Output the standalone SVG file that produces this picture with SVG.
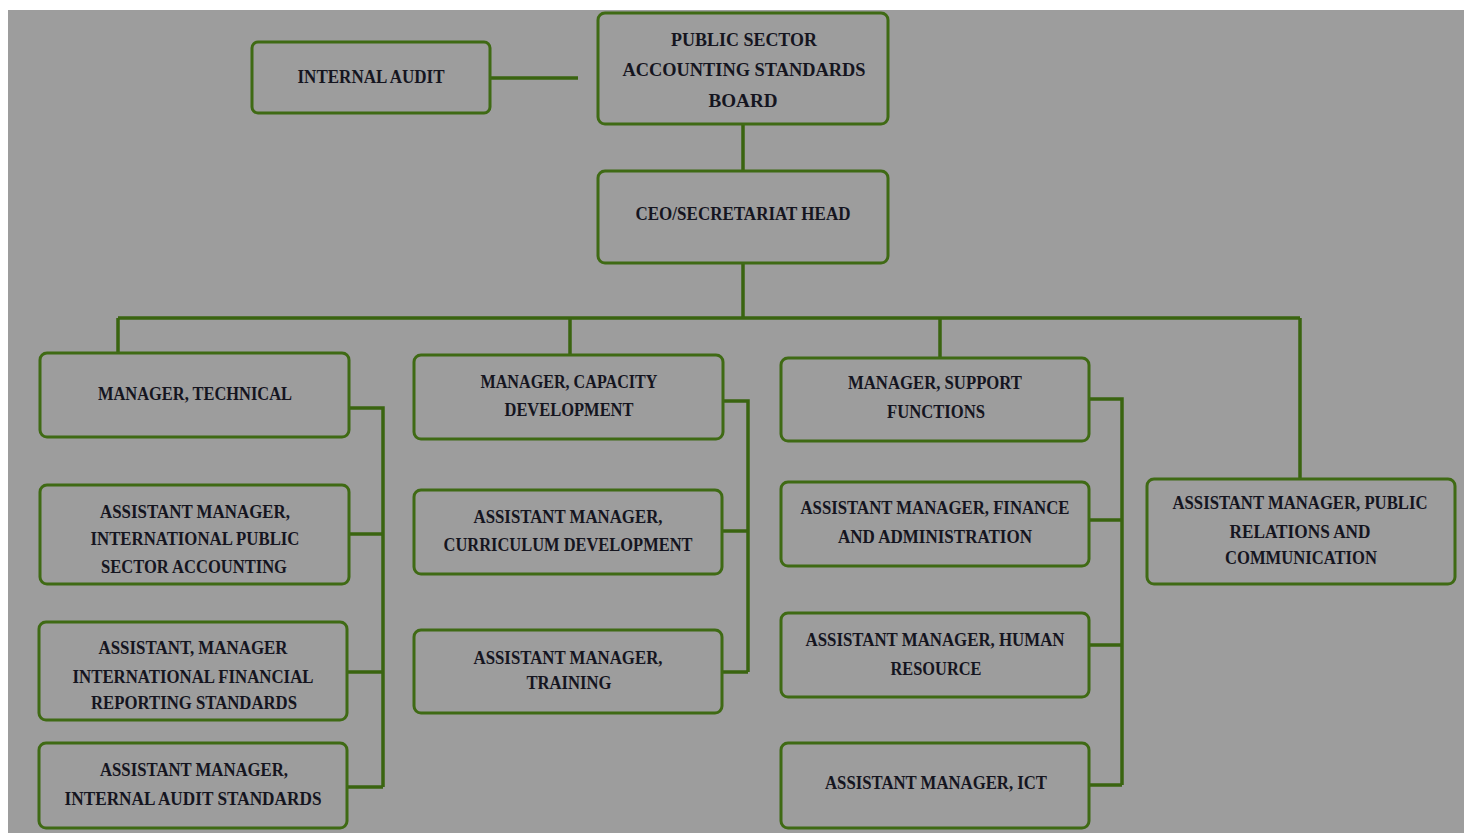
<svg xmlns="http://www.w3.org/2000/svg" width="1464" height="833" viewBox="0 0 1464 833">
<style>
.bg{fill:#9d9d9d}
.box{fill:#9d9d9d;stroke:#3f6a14;stroke-width:3}
.c{fill:none;stroke:#3a6410;stroke-width:3.5}
text{font-family:"Liberation Serif","DejaVu Serif",serif;font-weight:bold;font-size:18px;fill:#15151f;text-anchor:middle}
</style>
<rect width="1464" height="833" fill="#ffffff"/>
<rect class="bg" x="8" y="10" width="1456" height="823"/>
<g id="connectors">
<path class="c" d="M490 78H578"/>
<path class="c" d="M743 124V171"/>
<path class="c" d="M743 263V318"/>
<path class="c" d="M118 318H1300"/>
<path class="c" d="M118 318V353M570 318V355M940 318V358M1300 318V479"/>
<path class="c" d="M349 408H383V787M349 534H383M347 672H383M347 787H383"/>
<path class="c" d="M723 401H748V672M722 531H748M722 672H748"/>
<path class="c" d="M1089 399H1122V785M1089 520H1122M1089 645H1122M1089 785H1122"/>
</g>
<g id="internal-audit"><rect class="box" x="252" y="42" width="238" height="71" rx="6"/><text x="371" y="83" textLength="147" lengthAdjust="spacingAndGlyphs">INTERNAL AUDIT</text></g>
<g id="board"><rect class="box" x="598" y="13" width="290" height="111" rx="7"/>
<text x="744" y="46" textLength="146" lengthAdjust="spacingAndGlyphs">PUBLIC SECTOR</text>
<text x="744" y="76" textLength="243" lengthAdjust="spacingAndGlyphs">ACCOUNTING STANDARDS</text>
<text x="743" y="107" textLength="69" lengthAdjust="spacingAndGlyphs">BOARD</text></g>
<g id="ceo"><rect class="box" x="598" y="171" width="290" height="92" rx="7"/><text x="743" y="220" textLength="215" lengthAdjust="spacingAndGlyphs">CEO/SECRETARIAT HEAD</text></g>
<g id="manager-technical"><rect class="box" x="40" y="353" width="309" height="84" rx="7"/><text x="195" y="400" textLength="194" lengthAdjust="spacingAndGlyphs">MANAGER, TECHNICAL</text></g>
<g id="am-ipsa"><rect class="box" x="40" y="485" width="309" height="99" rx="7"/>
<text x="195" y="518" textLength="190" lengthAdjust="spacingAndGlyphs">ASSISTANT MANAGER,</text>
<text x="195" y="545" textLength="209" lengthAdjust="spacingAndGlyphs">INTERNATIONAL PUBLIC</text>
<text x="194" y="573" textLength="186" lengthAdjust="spacingAndGlyphs">SECTOR ACCOUNTING</text></g>
<g id="am-ifrs"><rect class="box" x="39" y="622" width="308" height="98" rx="7"/>
<text x="193" y="654" textLength="189" lengthAdjust="spacingAndGlyphs">ASSISTANT, MANAGER</text>
<text x="193" y="683" textLength="241" lengthAdjust="spacingAndGlyphs">INTERNATIONAL FINANCIAL</text>
<text x="194" y="709" textLength="206" lengthAdjust="spacingAndGlyphs">REPORTING STANDARDS</text></g>
<g id="am-ias"><rect class="box" x="39" y="743" width="308" height="85" rx="7"/>
<text x="194" y="776" textLength="188" lengthAdjust="spacingAndGlyphs">ASSISTANT MANAGER,</text>
<text x="193" y="805" textLength="257" lengthAdjust="spacingAndGlyphs">INTERNAL AUDIT STANDARDS</text></g>
<g id="manager-capacity"><rect class="box" x="414" y="355" width="309" height="84" rx="7"/>
<text x="569" y="388" textLength="177" lengthAdjust="spacingAndGlyphs">MANAGER, CAPACITY</text>
<text x="569" y="416" textLength="129" lengthAdjust="spacingAndGlyphs">DEVELOPMENT</text></g>
<g id="am-curriculum"><rect class="box" x="414" y="490" width="308" height="84" rx="7"/>
<text x="568" y="523" textLength="189" lengthAdjust="spacingAndGlyphs">ASSISTANT MANAGER,</text>
<text x="568" y="551" textLength="249" lengthAdjust="spacingAndGlyphs">CURRICULUM DEVELOPMENT</text></g>
<g id="am-training"><rect class="box" x="414" y="630" width="308" height="83" rx="7"/>
<text x="568" y="664" textLength="189" lengthAdjust="spacingAndGlyphs">ASSISTANT MANAGER,</text>
<text x="569" y="689" textLength="85" lengthAdjust="spacingAndGlyphs">TRAINING</text></g>
<g id="manager-support"><rect class="box" x="781" y="358" width="308" height="83" rx="7"/>
<text x="935" y="389" textLength="174" lengthAdjust="spacingAndGlyphs">MANAGER, SUPPORT</text>
<text x="936" y="418" textLength="98" lengthAdjust="spacingAndGlyphs">FUNCTIONS</text></g>
<g id="am-finance"><rect class="box" x="781" y="482" width="308" height="84" rx="7"/>
<text x="935" y="514" textLength="269" lengthAdjust="spacingAndGlyphs">ASSISTANT MANAGER, FINANCE</text>
<text x="935" y="543" textLength="194" lengthAdjust="spacingAndGlyphs">AND ADMINISTRATION</text></g>
<g id="am-hr"><rect class="box" x="781" y="613" width="308" height="84" rx="7"/>
<text x="935" y="646" textLength="259" lengthAdjust="spacingAndGlyphs">ASSISTANT MANAGER, HUMAN</text>
<text x="936" y="675" textLength="91" lengthAdjust="spacingAndGlyphs">RESOURCE</text></g>
<g id="am-ict"><rect class="box" x="781" y="743" width="308" height="85" rx="7"/>
<text x="936" y="789" textLength="222" lengthAdjust="spacingAndGlyphs">ASSISTANT MANAGER, ICT</text></g>
<g id="am-pr"><rect class="box" x="1147" y="479" width="308" height="105" rx="7"/>
<text x="1300" y="509" textLength="255" lengthAdjust="spacingAndGlyphs">ASSISTANT MANAGER, PUBLIC</text>
<text x="1300" y="538" textLength="141" lengthAdjust="spacingAndGlyphs">RELATIONS AND</text>
<text x="1301" y="564" textLength="152" lengthAdjust="spacingAndGlyphs">COMMUNICATION</text></g>
</svg>
